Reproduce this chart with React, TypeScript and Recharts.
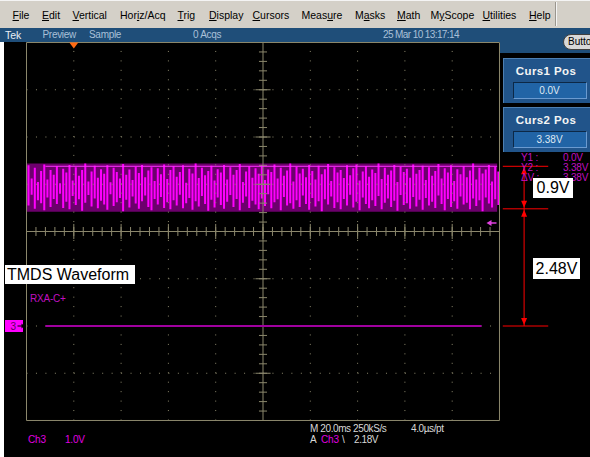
import React from "react";
import {
  ComposedChart,
  XAxis,
  YAxis,
  Bar,
  Line,
  Area,
  ReferenceLine,
  ReferenceDot,
} from "recharts";

// ---- waveform data (volts, 1 V/div, ground 2 div below centre) ----
const spikeHigh = [
  3.40, 3.12, 3.35, 3.05, 3.28, 3.42, 3.10, 3.30, 3.20, 3.38,
  3.02, 3.33, 3.25, 3.41, 3.08, 3.36, 3.18, 3.30, 3.44, 3.06,
  3.27, 3.39, 3.14, 3.32, 3.22, 3.40, 3.04, 3.35, 3.26, 3.12,
  3.43, 3.20, 3.31, 3.09, 3.37, 3.24, 3.41, 3.15, 3.29, 3.36,
  3.07, 3.34, 3.21, 3.42, 3.11, 3.30, 3.38, 3.16, 3.26, 3.40,
  3.03, 3.33, 3.23, 3.44, 3.13, 3.35, 3.19, 3.28, 3.39, 3.08,
  3.32, 3.25, 3.41, 3.10, 3.36, 3.20, 3.30, 3.43, 3.05, 3.27,
  3.38, 3.14, 3.34, 3.22, 3.40, 3.09, 3.31, 3.26, 3.42, 3.12,
  3.35, 3.18, 3.29, 3.44, 3.06, 3.37, 3.23, 3.33, 3.15, 3.41,
  3.28, 3.10, 3.39, 3.21, 3.32, 3.43, 3.07, 3.36, 3.25, 3.30,
  3.13, 3.40, 3.19, 3.34, 3.42, 3.08, 3.27, 3.38, 3.16, 3.31,
  3.24, 3.44, 3.11, 3.35, 3.20, 3.29, 3.41, 3.05, 3.37, 3.26,
  3.33, 3.14, 3.42, 3.22, 3.30, 3.39, 3.09, 3.36, 3.18, 3.28,
  3.43, 3.12, 3.34, 3.25, 3.40, 3.07, 3.32, 3.21, 3.38, 3.15,
  3.29, 3.44, 3.10, 3.35, 3.23, 3.31, 3.41, 3.06, 3.37, 3.27,
];
const spikeLow = [
  2.55, 2.78, 2.48, 2.66, 2.60, 2.45, 2.72, 2.52, 2.69, 2.58,
  2.80, 2.50, 2.63, 2.47, 2.75, 2.56, 2.68, 2.44, 2.61, 2.77,
  2.53, 2.70, 2.49, 2.65, 2.57, 2.46, 2.79, 2.54, 2.62, 2.71,
  2.43, 2.67, 2.51, 2.74, 2.59, 2.48, 2.64, 2.76, 2.52, 2.45,
  2.69, 2.57, 2.73, 2.50, 2.62, 2.47, 2.66, 2.55, 2.78, 2.49,
  2.60, 2.71, 2.46, 2.64, 2.53, 2.75, 2.58, 2.44, 2.67, 2.51,
  2.72, 2.56, 2.48, 2.63, 2.77, 2.52, 2.69, 2.45, 2.61, 2.74,
  2.50, 2.65, 2.57, 2.47, 2.70, 2.54, 2.79, 2.49, 2.62, 2.68,
  2.45, 2.73, 2.55, 2.60, 2.48, 2.66, 2.52, 2.76, 2.58, 2.46,
  2.71, 2.53, 2.64, 2.43, 2.68, 2.57, 2.74, 2.50, 2.62, 2.47,
  2.69, 2.55, 2.78, 2.51, 2.63, 2.45, 2.72, 2.58, 2.49, 2.66,
  2.54, 2.75, 2.47, 2.61, 2.70, 2.52, 2.65, 2.44, 2.77, 2.56,
  2.60, 2.48, 2.73, 2.53, 2.67, 2.46, 2.71, 2.55, 2.63, 2.50,
  2.76, 2.58, 2.45, 2.69, 2.52, 2.64, 2.48, 2.74, 2.57, 2.61,
  2.47, 2.70, 2.54, 2.66, 2.43, 2.72, 2.59, 2.51, 2.68, 2.56,
];
const bandLow = 2.42;
const bandHigh = 3.44;
const envelopeTop = 3.38;
const groundLevel = 0;
const traceStart = 0.4;
const traceEnd = 9.62;
const cursor1 = 0.0;
const cursor2 = 3.38;
const cursorDeltaA = 0.9;
const cursorMid = cursor2 - cursorDeltaA; // 2.48
const triggerLevel = 2.18;
const triggerPos = 1.0;

// ---- graticule ticks (divisions) ----
const divX = [0, 1, 2, 3, 4, 5, 6, 7, 8, 9, 10];
const divY = [-2, -1, 0, 1, 2, 3, 4, 5, 6];
const minorX = Array.from({ length: 51 }, (_, i) => +(i * 0.2).toFixed(2));
const minorY = Array.from({ length: 41 }, (_, i) => +(-2 + i * 0.2).toFixed(2));
const centerX = 5;
const centerY = 2;

// cursor readout geometry (in divisions, outside the graticule)
const cursorX1 = 10.07;
const cursorX2 = 11.03;
const cursorArrowX = 10.52;

const barData = spikeHigh.map((h, i) => ({ i, range: [spikeLow[i], h] }));
const bandData = [
  { t: 0, band: [bandLow, bandHigh] },
  { t: 9.95, band: [bandLow, bandHigh] },
];
const envelopeData = [
  { t: traceStart, v: envelopeTop },
  { t: 9.95, v: envelopeTop },
];
const groundData = [
  { t: traceStart, v: groundLevel },
  { t: traceEnd, v: groundLevel },
];

const G = "#8b876c";
const FONT = '"Liberation Sans", Arial, sans-serif';
const THIN = 0.001;

const triShape = (dir: "up" | "down", color: string, w: number, h: number) => (p: any) => {
  const { cx, cy } = p;
  const pts =
    dir === "up"
      ? `${cx},${cy + 1} ${cx - w / 2},${cy + 1 + h} ${cx + w / 2},${cy + 1 + h}`
      : `${cx},${cy - 1} ${cx - w / 2},${cy - 1 - h} ${cx + w / 2},${cy - 1 - h}`;
  return <polygon points={pts} fill={color} />;
};

const trigPosShape = (p: any) => {
  const { cx, cy } = p;
  return <polygon points={`${cx - 4.5},${cy} ${cx + 4.5},${cy} ${cx},${cy + 6}`} fill="#ff6a13" />;
};

const trigLevelShape = (p: any) => {
  const { cx, cy } = p;
  return (
    <g>
      <line x1={cx - 9} y1={cy} x2={cx - 3} y2={cy} stroke="#e040e0" strokeWidth={1.5} />
      <polygon points={`${cx - 13},${cy} ${cx - 8},${cy - 3} ${cx - 8},${cy + 3}`} fill="#e040e0" />
    </g>
  );
};

const groundShape = (p: any) => {
  const { cx, cy } = p;
  return (
    <g>
      <rect x={cx - 21.5} y={cy - 6} width={18} height={12} fill="#ff00ff" />
      <text x={cx - 16} y={cy + 4} fontSize={10} fill="#600060" fontFamily={FONT}>
        3
      </text>
      <line x1={cx - 9} y1={cy} x2={cx - 3} y2={cy} stroke="#000" strokeWidth={1} />
      <polygon points={`${cx - 2},${cy} ${cx - 5},${cy - 2.5} ${cx - 5},${cy + 2.5}`} fill="#000" />
    </g>
  );
};

const MenuItem = ({ x, text, u }: { x: number; text: string; u: number }) => (
  <div
    style={{
      position: "absolute",
      left: x,
      top: 8,
      height: 14,
      lineHeight: "14px",
      fontSize: 10.5,
      color: "#000",
      whiteSpace: "nowrap",
    }}
  >
    {text.slice(0, u)}
    <span style={{ textDecoration: "underline" }}>{text.slice(u, u + 1)}</span>
    {text.slice(u + 1)}
  </div>
);

const T = ({ x, y, children, color, size = 10, bold = false, ls = 0 }: any) => (
  <div
    style={{
      position: "absolute",
      left: x,
      top: y - 7,
      height: 14,
      lineHeight: "14px",
      fontSize: size,
      color,
      fontWeight: bold ? 700 : 400,
      letterSpacing: ls,
      whiteSpace: "nowrap",
    }}
  >
    {children}
  </div>
);

export default function App() {
  return (
    <div
      style={{
        position: "fixed",
        left: 0,
        top: 0,
        width: 590,
        height: 457,
        overflow: "hidden",
        background: "#fff",
        fontFamily: FONT,
      }}
    >
      {/* menu bar */}
      <div
        style={{
          position: "absolute",
          left: 0,
          top: 0,
          width: 590,
          height: 28,
          background: "#d4d0c8",
          borderTop: "1px solid #f4f4f4",
          boxSizing: "border-box",
        }}
      />
      <MenuItem x={12.5} text="File" u={0} />
      <MenuItem x={42} text="Edit" u={0} />
      <MenuItem x={72.5} text="Vertical" u={0} />
      <MenuItem x={120} text="Horiz/Acq" u={3} />
      <MenuItem x={177.5} text="Trig" u={0} />
      <MenuItem x={209} text="Display" u={0} />
      <MenuItem x={252.5} text="Cursors" u={0} />
      <MenuItem x={301.5} text="Measure" u={4} />
      <MenuItem x={355} text="Masks" u={1} />
      <MenuItem x={397} text="Math" u={0} />
      <MenuItem x={430.5} text="MyScope" u={1} />
      <MenuItem x={482.5} text="Utilities" u={0} />
      <MenuItem x={529} text="Help" u={0} />
      <div style={{ position: "absolute", left: 555, top: 2, width: 1, height: 24, background: "#9a968e" }} />
      <div style={{ position: "absolute", left: 556, top: 2, width: 1, height: 24, background: "#f4f4f4" }} />

      {/* status bar */}
      <div style={{ position: "absolute", left: 0, top: 28, width: 590, height: 14, background: "#1f4e79" }} />
      <T x={5} y={35} color="#e8eef4" size={10.5}>Tek</T>
      <T x={42.5} y={35} color="#a9c0d8" size={10} ls={-0.3}>Preview</T>
      <T x={89} y={35} color="#a9c0d8" size={10} ls={-0.3}>Sample</T>
      <T x={193} y={35} color="#a9c0d8" size={10} ls={-0.3}>0 Acqs</T>
      <T x={383} y={35} color="#a9c0d8" size={10} ls={-0.6}>25 Mar 10 13:17:14</T>

      {/* scope screen */}
      <div style={{ position: "absolute", left: 4, top: 42, width: 586, height: 415, background: "#000" }} />
      <div style={{ position: "absolute", left: 500, top: 42, width: 90, height: 11, background: "#1f4e79" }} />
      <div
        style={{
          position: "absolute",
          left: 563,
          top: 34,
          width: 40,
          height: 16,
          background: "#d8d8d8",
          border: "1px solid #404040",
          borderRadius: 8,
          boxSizing: "border-box",
          fontSize: 10,
          lineHeight: "14px",
          paddingLeft: 4,
          color: "#000",
        }}
      >
        Butto
      </div>

      {/* cursor panel */}
      {[
        { top: 58, label: "Curs1 Pos", value: "0.0V" },
        { top: 107, label: "Curs2 Pos", value: "3.38V" },
      ].map((b) => (
        <div key={b.label}>
          <div
            style={{
              position: "absolute",
              left: 502.5,
              top: b.top,
              width: 88,
              height: 45,
              background: "#21548a",
              borderTop: "1px solid #4d7fb2",
              borderLeft: "1px solid #4d7fb2",
              boxSizing: "border-box",
            }}
          />
          <div
            style={{
              position: "absolute",
              left: 502,
              top: b.top + 6,
              width: 88,
              textAlign: "center",
              fontSize: 11.5,
              fontWeight: 700,
              color: "#f4f4f4",
              lineHeight: "14px",
              letterSpacing: 0.4,
            }}
          >
            {b.label}
          </div>
          <div
            style={{
              position: "absolute",
              left: 512.5,
              top: b.top + 24,
              width: 74,
              height: 17,
              background: "#2164a6",
              borderTop: "1px solid #0c2846",
              borderLeft: "1px solid #0c2846",
              borderBottom: "1px solid #6a9ad0",
              borderRight: "1px solid #6a9ad0",
              boxSizing: "border-box",
              textAlign: "center",
              fontSize: 10,
              lineHeight: "15px",
              color: "#dfe8f2",
            }}
          >
            {b.value}
          </div>
        </div>
      ))}

      {/* chart */}
      <div style={{ position: "absolute", left: 0, top: 0 }}>
        <ComposedChart
          width={590}
          height={457}
          data={barData}
          margin={{ top: 42.5, right: 90.5, bottom: 36.5, left: 26.5 }}
          barCategoryGap={0}
          barGap={0}
        >
          <XAxis xAxisId="bar" dataKey="i" type="category" hide />
          <XAxis
            xAxisId="t"
            dataKey="t"
            type="number"
            domain={[0, 10]}
            ticks={divX}
            interval={0}
            allowDataOverflow
            hide
          />
          <YAxis
            yAxisId="v"
            type="number"
            domain={[-2, 6]}
            ticks={divY}
            interval={0}
            allowDataOverflow
            hide
          />
          {/* frame edges with ticks */}
          {(["top", "bottom"] as const).map((o) => (
            <XAxis
              key={"xm" + o}
              xAxisId={"minor-" + o}
              dataKey="t"
              type="number"
              domain={[0, 10]}
              ticks={minorX}
              interval={0}
              allowDataOverflow
              orientation={o}
              mirror
              height={THIN}
              tickSize={4}
              tick={false}
              axisLine={{ stroke: G }}
              tickLine={{ stroke: G }}
            />
          ))}
          {(["top", "bottom"] as const).map((o) => (
            <XAxis
              key={"xM" + o}
              xAxisId={"major-" + o}
              dataKey="t"
              type="number"
              domain={[0, 10]}
              ticks={divX}
              interval={0}
              allowDataOverflow
              orientation={o}
              mirror
              height={THIN}
              tickSize={9}
              tick={false}
              axisLine={false}
              tickLine={{ stroke: G }}
            />
          ))}
          {(["left", "right"] as const).map((o) => (
            <YAxis
              key={"ym" + o}
              yAxisId={"minor-" + o}
              type="number"
              domain={[-2, 6]}
              ticks={minorY}
              interval={0}
              allowDataOverflow
              orientation={o}
              mirror
              width={THIN}
              tickSize={4}
              tick={false}
              axisLine={{ stroke: G }}
              tickLine={{ stroke: G }}
            />
          ))}
          {(["left", "right"] as const).map((o) => (
            <YAxis
              key={"yM" + o}
              yAxisId={"major-" + o}
              type="number"
              domain={[-2, 6]}
              ticks={divY}
              interval={0}
              allowDataOverflow
              orientation={o}
              mirror
              width={THIN}
              tickSize={9}
              tick={false}
              axisLine={false}
              tickLine={{ stroke: G }}
            />
          ))}

          {/* dotted graticule */}
          {divX
            .filter((x) => x !== 0 && x !== 10 && x !== centerX)
            .map((x) => (
              <ReferenceLine key={"gx" + x} xAxisId="t" yAxisId="v" x={x} stroke={G} strokeDasharray="1 8.45" />
            ))}
          {divY
            .filter((y) => y !== -2 && y !== 6 && y !== centerY)
            .map((y) => (
              <ReferenceLine key={"gy" + y} xAxisId="t" yAxisId="v" y={y} stroke={G} strokeDasharray="1 8.46" />
            ))}

          {/* centre cross */}
          <ReferenceLine xAxisId="t" yAxisId="v" x={centerX} stroke={G} />
          <ReferenceLine xAxisId="t" yAxisId="v" y={centerY} stroke={G} />
          {minorY.map((y) => (
            <ReferenceLine
              key={"cyt" + y}
              xAxisId="t"
              yAxisId="v"
              segment={[
                { x: centerX - 0.085, y },
                { x: centerX + 0.085, y },
              ]}
              stroke={G}
              ifOverflow="visible"
            />
          ))}
          {divY.map((y) => (
            <ReferenceLine
              key={"cyM" + y}
              xAxisId="t"
              yAxisId="v"
              segment={[
                { x: centerX - 0.16, y },
                { x: centerX + 0.16, y },
              ]}
              stroke={G}
              ifOverflow="visible"
            />
          ))}
          {minorX.map((x) => (
            <ReferenceLine
              key={"cxt" + x}
              xAxisId="t"
              yAxisId="v"
              segment={[
                { x, y: centerY - 0.095 },
                { x, y: centerY + 0.095 },
              ]}
              stroke={G}
              ifOverflow="visible"
            />
          ))}
          {divX.map((x) => (
            <ReferenceLine
              key={"cxM" + x}
              xAxisId="t"
              yAxisId="v"
              segment={[
                { x, y: centerY - 0.16 },
                { x, y: centerY + 0.16 },
              ]}
              stroke={G}
              ifOverflow="visible"
            />
          ))}

          {/* TMDS waveform */}
          <Area
            xAxisId="t"
            yAxisId="v"
            data={bandData}
            dataKey="band"
            type="linear"
            fill="#6c006c"
            fillOpacity={1}
            stroke="none"
            isAnimationActive={false}
          />
          <Bar xAxisId="bar" yAxisId="v" dataKey="range" fill="#ff00ff" barSize={2} isAnimationActive={false} />
          <Line
            xAxisId="t"
            yAxisId="v"
            data={envelopeData}
            dataKey="v"
            stroke="#ff30ff"
            strokeWidth={1}
            dot={false}
            activeDot={false}
            isAnimationActive={false}
          />
          <Line
            xAxisId="t"
            yAxisId="v"
            data={groundData}
            dataKey="v"
            stroke="#a0009f"
            strokeWidth={2}
            dot={false}
            activeDot={false}
            isAnimationActive={false}
          />

          {/* cursors */}
          {[cursor1, cursorMid, cursor2].map((c) => (
            <ReferenceLine
              key={"cur" + c}
              xAxisId="t"
              yAxisId="v"
              segment={[
                { x: cursorX1, y: c },
                { x: cursorX2, y: c },
              ]}
              stroke="#ff0000"
              strokeWidth={1}
              ifOverflow="visible"
            />
          ))}
          <ReferenceLine
            xAxisId="t"
            yAxisId="v"
            segment={[
              { x: cursorArrowX, y: cursor1 },
              { x: cursorArrowX, y: cursor2 },
            ]}
            stroke="#ff0000"
            ifOverflow="visible"
          />
          <ReferenceDot xAxisId="t" yAxisId="v" x={cursorArrowX} y={cursor2} ifOverflow="visible" shape={triShape("up", "#ff0000", 6, 7)} />
          <ReferenceDot xAxisId="t" yAxisId="v" x={cursorArrowX} y={cursorMid} ifOverflow="visible" shape={triShape("down", "#ff0000", 6, 7)} />
          <ReferenceDot xAxisId="t" yAxisId="v" x={cursorArrowX} y={cursorMid} ifOverflow="visible" shape={triShape("up", "#ff0000", 6, 7)} />
          <ReferenceDot xAxisId="t" yAxisId="v" x={cursorArrowX} y={cursor1} ifOverflow="visible" shape={triShape("down", "#ff0000", 6, 7)} />

          {/* markers */}
          <ReferenceDot xAxisId="t" yAxisId="v" x={triggerPos} y={6} ifOverflow="visible" shape={trigPosShape} />
          <ReferenceDot xAxisId="t" yAxisId="v" x={10} y={triggerLevel} ifOverflow="visible" shape={trigLevelShape} />
          <ReferenceDot xAxisId="t" yAxisId="v" x={0} y={groundLevel} ifOverflow="visible" shape={groundShape} />
        </ComposedChart>
      </div>

      {/* cursor readouts */}
      <T x={521} y={158} color="#c010c0" ls={-0.2}>Y1 :</T>
      <T x={563} y={158} color="#c010c0" ls={-0.2}>0.0V</T>
      <T x={521} y={168} color="#c010c0" ls={-0.2}>Y2 :</T>
      <T x={563} y={168} color="#c010c0" ls={-0.2}>3.38V</T>
      <T x={521} y={178} color="#c010c0" ls={-0.2}>ΔV :</T>
      <T x={563} y={178} color="#c010c0" ls={-0.2}>3.38V</T>

      {/* channel label */}
      <T x={30} y={299} color="#c010c0" ls={-0.2}>RXA-C+</T>

      {/* bottom readouts */}
      <T x={28} y={440} color="#e000e0" ls={-0.2}>Ch3</T>
      <T x={65} y={440} color="#e000e0" ls={-0.2}>1.0V</T>
      <T x={310} y={429} color="#d8d8d8" ls={-0.4}>M 20.0ms 250kS/s</T>
      <T x={411} y={429} color="#d8d8d8" ls={-0.4}>4.0µs/pt</T>
      <T x={310} y={440} color="#d8d8d8" ls={-0.4}>A</T>
      <T x={321} y={440} color="#e000e0" ls={-0.2}>Ch3</T>
      <T x={342} y={440} color="#d8d8d8">\</T>
      <T x={354} y={440} color="#d8d8d8" ls={-0.4}>2.18V</T>

      {/* annotations */}
      <div
        style={{
          position: "absolute",
          left: 5,
          top: 265,
          width: 130,
          height: 19,
          background: "#fff",
          fontSize: 16,
          lineHeight: "19px",
          paddingLeft: 2,
          boxSizing: "border-box",
          color: "#000",
          whiteSpace: "nowrap",
        }}
      >
        TMDS Waveform
      </div>
      <div
        style={{
          position: "absolute",
          left: 533,
          top: 178,
          width: 40,
          height: 20,
          background: "#fff",
          fontSize: 16,
          lineHeight: "20px",
          textAlign: "center",
          color: "#000",
        }}
      >
        0.9V
      </div>
      <div
        style={{
          position: "absolute",
          left: 533,
          top: 258,
          width: 47,
          height: 21,
          background: "#fff",
          fontSize: 16,
          lineHeight: "21px",
          textAlign: "center",
          color: "#000",
        }}
      >
        2.48V
      </div>
    </div>
  );
}
